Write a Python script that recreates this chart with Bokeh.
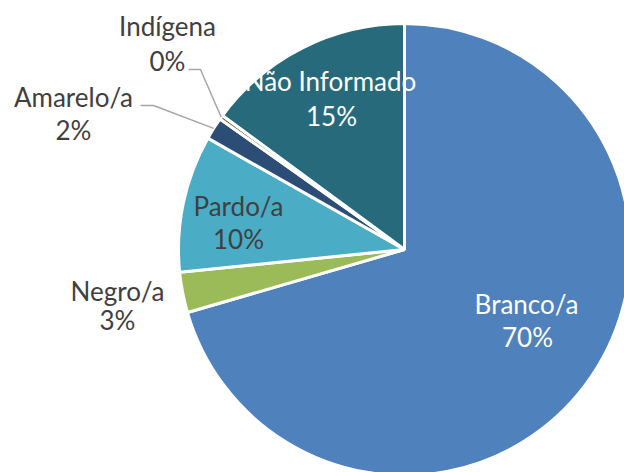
import math
from bokeh.plotting import figure
from bokeh.models import Range1d
from bokeh.core.properties import value
from bokeh.embed import file_html
from bokeh.resources import INLINE

# ---- data ----
categories = ["Branco/a", "Negro/a", "Pardo/a", "Amarelo/a", "Indígena", "Não Informado"]
shares = [70.5, 2.9, 9.8, 1.6, 0.3, 14.9]
colors = ["#4F81BD", "#9BBB59", "#4BACC6", "#2C4D75", "#5F7530", "#276A7C"]
label_colors = ["#FFFFFF", "#404040", "#404040", "#404040", "#404040", "#FFFFFF"]

# ---- layout (pixel offsets from pie centre; y up) ----
R = 226
name_pos = [(122, -54), (-287, -41), (-166, 44), (-331, 153), (-237, 224), (-74, 169)]
pct_pos = [(123, -87.5), (-287, -70), (-166, 10.7), (-331, 119.7), (-237, 189), (-73, 134)]
leaders = {3: (-264, 144, -251, 144), 4: (-216, 180, -204, 180)}

W, H = 624, 472
cx, cy = 404, 249  # centre of pie within the frame (from left / from top)

p = figure(width=W, height=H, output_backend="svg", toolbar_location=None,
           x_range=Range1d(-cx, W - cx), y_range=Range1d(-(H - cy), cy),
           min_border=0, background_fill_color="white", border_fill_color="white")
p.axis.visible = False
p.grid.visible = False
p.outline_line_color = None

total = sum(shares)
starts, ends, mids = [], [], []
cum = 0.0
for s in shares:
    a0 = math.pi / 2 - 2 * math.pi * cum / total
    cum += s
    a1 = math.pi / 2 - 2 * math.pi * cum / total
    starts.append(a0)
    ends.append(a1)
    mids.append((a0 + a1) / 2)

p.wedge(x=0, y=0, radius=R, start_angle=starts, end_angle=ends, direction="clock",
        fill_color=colors, line_color="white", line_width=3)

# leader lines
for i, (x0, y0, x1, y1) in leaders.items():
    ex = R * math.cos(mids[i])
    ey = R * math.sin(mids[i])
    p.line([x0, x1, ex], [y0, y1, ey], line_color="#A6A6A6", line_width=1.5)

pcts = [f"{round(s / total * 100)}%" for s in shares]
p.text(x=[q[0] for q in name_pos], y=[q[1] for q in name_pos], text=categories,
       text_color=label_colors, text_font=value("Lato"), text_font_size="26px",
       text_align="center", text_baseline="alphabetic")
p.text(x=[q[0] for q in pct_pos], y=[q[1] for q in pct_pos], text=pcts,
       text_color=label_colors, text_font=value("Lato"), text_font_size="26px",
       text_align="center", text_baseline="alphabetic")

open("out.html", "w").write(file_html(p, INLINE))
